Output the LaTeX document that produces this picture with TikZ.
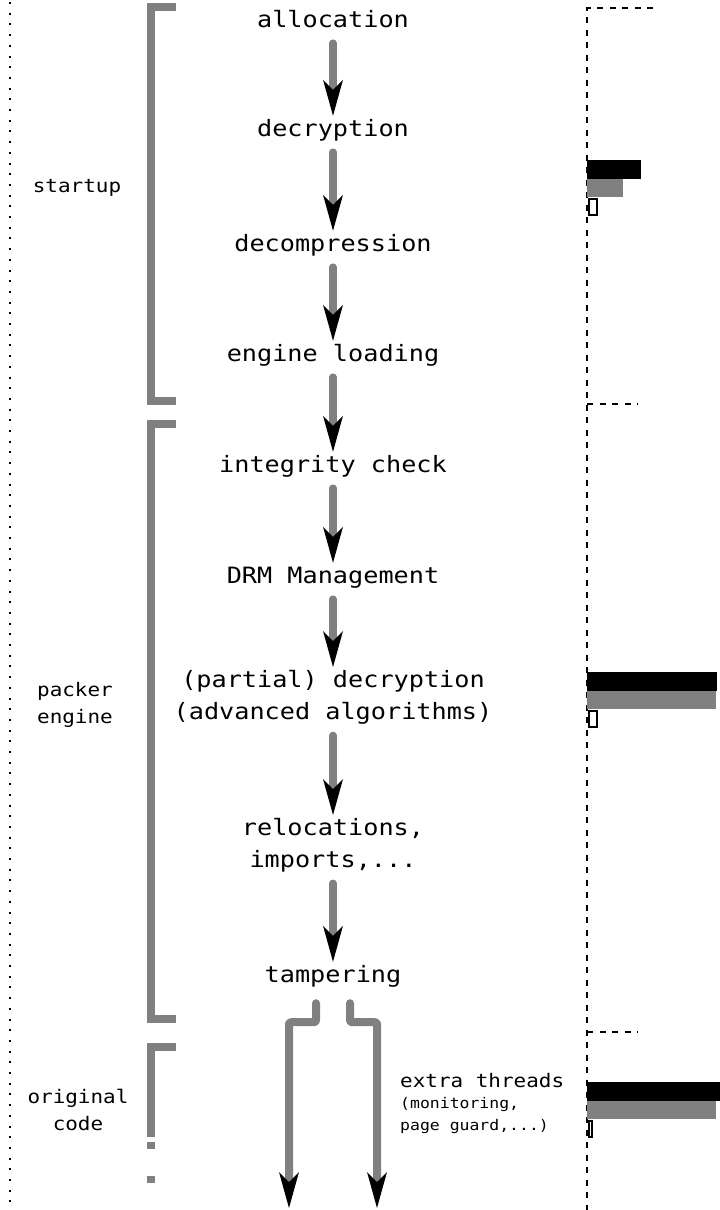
\documentclass[tikz,border=0pt]{standalone}
\usepackage{fontspec}
\usetikzlibrary{arrows.meta, positioning}
\newfontfamily\codefont[FakeStretch=1.12]{DejaVu Sans Mono}
\newcommand{\smallcode}{\fontsize{14.7}{20}\selectfont}
\definecolor{flowgray}{HTML}{808080}
\tikzset{
    stage/.style={inner sep=0pt, anchor=base, text height=17pt, text depth=5pt,
        font=\codefont\fontsize{22.5}{32}\selectfont},
    stagetwo/.style={inner sep=0pt, anchor=north, align=center,
        font=\codefont\fontsize{22.5}{32}\selectfont},
    phase/.style={inner sep=0pt, align=center, font=\codefont\fontsize{18.7}{26.5}\selectfont},
    flow/.style={draw=flowgray, line width=7.5pt, line cap=round,
        -{Stealth[length=36pt, width=20pt, inset=10pt, line width=0pt, black]},
        shorten <=11pt, shorten >=3pt},
    branch/.style={flow, line width=8pt, line join=round, rounded corners=2pt, shorten <=16pt, shorten >=1pt},
    bracket/.style={draw=flowgray, line width=8pt},
    timeline/.style={line width=2pt, dash pattern=on 6pt off 6.5pt},
}

\begin{document}
\begin{tikzpicture}[x=1pt, y=-1pt]
\useasboundingbox (0,0) rectangle (720,1210);

% ── left border ──
\draw[line width=2pt, dash pattern=on 2pt off 8.7pt] (10,2) -- (10,1210);

% ── phases ──
\node[phase, anchor=base] (startup) at (77,192) {startup};
\node[phase] (packer) at (75,705) {packer\\engine};
\node[phase] (orig) at (78,1110) {original\\code};

\draw[bracket] (176,7) -- (151,7) -- (151,401) -- (176,401);
\draw[bracket] (176,424) -- (151,424) -- (151,1019) -- (176,1019);
\draw[bracket] (176,1047) -- (151,1047) -- (151,1137);
\draw[bracket, dash pattern=on 7pt off 27pt] (151,1142) -- (151,1220);

% ── main flow ──
\node[stage] (alloc) at (333,27) {allocation};
\node[stage] (decr) at (333,136) {decryption};
\node[stage] (decomp) at (333,251) {decompression};
\node[stage] (engine) at (333,361) {engine loading};
\node[stage] (integ) at (333,472) {integrity check};
\node[stage] (drm) at (333,583) {DRM Management};
\node[stagetwo] (partdec) at (333,670) {(partial) decryption\\(advanced algorithms)};
\node[stagetwo] (reloc) at (333,818) {relocations,\\imports,...};
\node[stage] (tamp) at (333,982) {tampering};

\draw[flow] (alloc) -- (decr);
\draw[flow] (decr) -- (decomp);
\draw[flow] (decomp) -- (engine);
\draw[flow] (engine) -- (integ);
\draw[flow] (integ) -- (drm);
\draw[flow] (drm) -- (partdec);
\draw[flow] (partdec) -- (reloc);
\draw[flow] (reloc) -- (tamp);

% ── split into threads ──
\coordinate (endL) at (289,1209);
\coordinate (endR) at (377,1209);
\draw[branch] ([xshift=-17pt]tamp.south) -- ++(0,35) -| (endL);
\draw[branch] ([xshift=17pt]tamp.south) -- ++(0,35) -| (endR);

\node[phase, align=left, anchor=north west, font=\codefont\fontsize{18.7}{21.5}\selectfont] (extra) at (400,1073)
    {extra threads\\\smallcode (monitoring,\\\smallcode page guard,...)};

% ── timeline ──
\draw[timeline] (653,8) -- (587,8) -- (587,1212);
\draw[timeline] (587,404) -- (638,404);
\draw[timeline] (587,1032) -- (638,1032);

\foreach \y/\b/\g/\w in {160/641/623/597, 672/717/716/597, 1082/724/716/592} {
    \fill (587,\y) rectangle (\b,{\y+19});
    \fill[flowgray] (587,{\y+19}) rectangle (\g,{\y+37});
    \draw[line width=2pt, fill=white] (589,{\y+39}) rectangle (\w,{\y+55});
}

\end{tikzpicture}
\end{document}
